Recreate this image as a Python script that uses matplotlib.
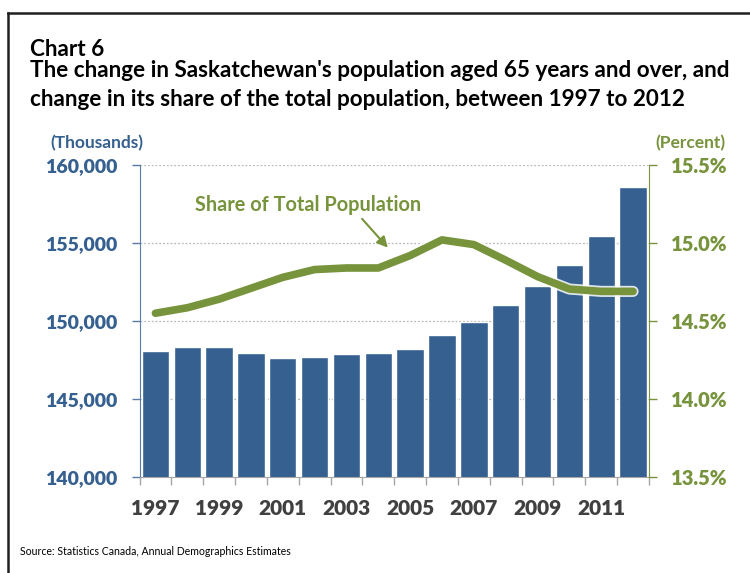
import matplotlib
matplotlib.use("Agg")
import matplotlib.pyplot as plt
import matplotlib.patheffects as pe
from matplotlib.ticker import FixedLocator

plt.rcParams['font.family'] = ['Lato', 'DejaVu Sans']
plt.rcParams['font.weight'] = 'bold'

# Saskatchewan population aged 65+, and its share of the total population
years = [1997, 1998, 1999, 2000, 2001, 2002, 2003, 2004,
         2005, 2006, 2007, 2008, 2009, 2010, 2011, 2012]
seniors = [148080, 148310, 148330, 147970, 147630, 147710, 147860, 147950,
           148210, 149100, 149960, 151030, 152240, 153590, 155430, 158590]
share_pct = [14.55, 14.585, 14.64, 14.71, 14.78, 14.83, 14.84, 14.84,
             14.92, 15.02, 14.99, 14.89, 14.785, 14.705, 14.69, 14.69]
left_ticks = [140000, 145000, 150000, 155000, 160000]
right_ticks = [13.5, 14.0, 14.5, 15.0, 15.5]

blue = '#35608F'
green = '#77933C'

fig = plt.figure(figsize=(7.5, 5.73), dpi=100)
ax = fig.add_axes([0.186, 0.1675, 0.6793, 0.5445])

x = list(range(len(years)))
ax.bar(x, seniors, width=0.86, color=blue, edgecolor='white', linewidth=1.0,
       zorder=2)
ax.set_xlim(-0.5, len(years) - 0.5)
ax.set_ylim(140000, 160000)

# left axis
ax.set_yticks(left_ticks, [f'{v:,}' for v in left_ticks])
ax.tick_params(axis='y', color='#5A7BA6', labelcolor=blue, labelsize=14,
               length=6, width=1, pad=10)
ax.grid(axis='y', linestyle=(0, (1.5, 1.5)), color='#B8B8B8', linewidth=0.9,
        zorder=0)
ax.set_axisbelow(True)

# year labels centred under the bars, tick marks on the boundaries
ax.set_xticks(x[::2], [str(y) for y in years[::2]])
ax.xaxis.set_minor_locator(FixedLocator([i - 0.5 for i in range(len(years) + 1)]))
ax.tick_params(axis='x', which='major', length=0, pad=16, labelsize=15,
               labelcolor='#404040')
ax.tick_params(axis='x', which='minor', length=6, width=1, color='#A6A6A6')

for side in ['top', 'right']:
    ax.spines[side].set_visible(False)
ax.spines['left'].set_color('#5A7BA6')
ax.spines['bottom'].set_color('#A6A6A6')

# right axis with the share line
ax2 = ax.twinx()
ax2.set_ylim(13.5, 15.5)
ax2.set_yticks(right_ticks, [f'{v:.1f}%' for v in right_ticks])
ax2.tick_params(axis='y', color=green, labelcolor=green, labelsize=14.5,
                length=6, width=1, pad=10)
for side in ['top', 'left', 'bottom']:
    ax2.spines[side].set_visible(False)
ax2.spines['right'].set_color(green)

ax2.plot(x, share_pct, color=green, linewidth=5.5, solid_capstyle='round',
         solid_joinstyle='round', zorder=3,
         path_effects=[pe.Stroke(linewidth=8, foreground='white', alpha=0.85),
                       pe.Normal()])

ax2.text(4.79, 15.244, 'Share of Total Population', fontsize=14.3,
         color=green, ha='center', va='center')
ax2.annotate('', xy=(7.3, 14.97), xytext=(6.49, 15.155),
             arrowprops=dict(arrowstyle='-|>', color=green, lw=1.5,
                             mutation_scale=16, shrinkA=0, shrinkB=0))

# axis unit captions
fig.text(0.129, 0.751, '(Thousands)', fontsize=12.5, color=blue,
         ha='center', va='center')
fig.text(0.92, 0.751, '(Percent)', fontsize=12.5, color=green,
         ha='center', va='center')

# titles and source
fig.text(0.04, 0.902, 'Chart 6', fontsize=16.2, fontweight='bold',
         color='black', va='baseline')
fig.text(0.04, 0.865, "The change in Saskatchewan's population aged 65 years and over, and",
         fontsize=16.2, fontweight='bold', color='black', va='baseline')
fig.text(0.04, 0.815, 'change in its share of the total population, between 1997 to 2012',
         fontsize=16.2, fontweight='bold', color='black', va='baseline')
fig.text(0.027, 0.038, 'Source: Statistics Canada, Annual Demographics Estimates',
         fontsize=7.6, fontweight='normal', color='black', va='center')

# heavier tick labels, closer to the printed chart
for lbl in ax.get_xticklabels() + ax.get_yticklabels() + ax2.get_yticklabels():
    lbl.set_fontweight(800)

# frame around the chart
fig.add_artist(plt.Line2D([0.011, 0.011], [0, 0.977], color='#202020',
                          linewidth=1.8, transform=fig.transFigure))
fig.add_artist(plt.Line2D([0.011, 1], [0.977, 0.977], color='#202020',
                          linewidth=1.8, transform=fig.transFigure))

fig.savefig('out.png', dpi=100)
